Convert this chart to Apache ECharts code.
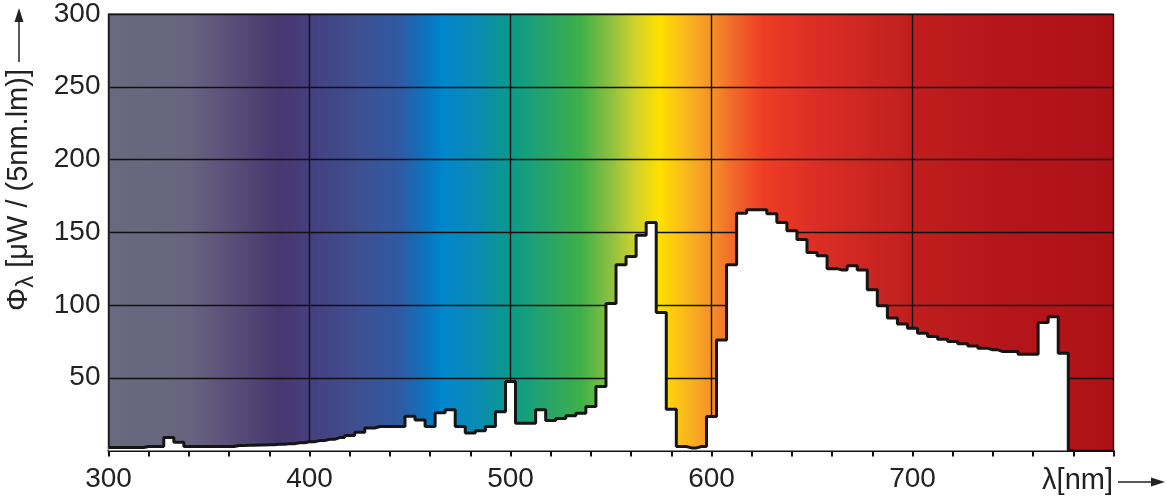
<!DOCTYPE html>
<html>
<head>
<meta charset="utf-8">
<script src="https://cdn.jsdelivr.net/npm/echarts@6/dist/echarts.min.js"></script>
<style>
	html, body { margin: 0; padding: 0; background: #ffffff; }
	#chart { width: 1167px; height: 500px; }
</style>
</head>
<body>
<div id="chart"></div>
<script>
// wavelength of each 5 nm band (nm)
var wavelengths = [300, 305, 310, 315, 320, 325, 330, 335, 340, 345,
	350, 355, 360, 365, 370, 375, 380, 385, 390, 395,
	400, 405, 410, 415, 420, 425, 430, 435, 440, 445,
	450, 455, 460, 465, 470, 475, 480, 485, 490, 495,
	500, 505, 510, 515, 520, 525, 530, 535, 540, 545,
	550, 555, 560, 565, 570, 575, 580, 585, 590, 595,
	600, 605, 610, 615, 620, 625, 630, 635, 640, 645,
	650, 655, 660, 665, 670, 675, 680, 685, 690, 695,
	700, 705, 710, 715, 720, 725, 730, 735, 740, 745,
	750, 755, 760, 765, 770, 775, 780];

// spectral flux per band, uW / (5nm.lm)
var flux = [2, 2, 2, 2, 2.7, 2.7, 8.9, 5.7, 2.7, 2.7,
	2.7, 2.7, 2.7, 3.4, 3.6, 3.8, 4, 4.3, 4.7, 5.3,
	6, 6.8, 7.7, 8.9, 10.3, 12.5, 15.5, 16.5, 16.5, 16.5,
	23.5, 21, 16.5, 26, 28, 16.5, 12, 13.5, 16.5, 26.7,
	47.4, 18.8, 18.8, 28, 20.6, 22, 23.8, 25.6, 30.2, 44,
	101, 127.6, 133.3, 148, 156.7, 94.8, 28.4, 2.7, 1.8, 2.7,
	23.3, 76, 127.6, 163, 165.4, 165.4, 162.7, 156.7, 151, 145,
	136, 133.8, 125, 124, 127, 124, 110.4, 99.4, 91, 87,
	84, 80.6, 78.3, 76.5, 74.9, 73.3, 71.9, 70.3, 69.2, 68,
	68, 66.2, 66.2, 88, 92, 66.9, 0];

// axis ticks
var xTicks = [300, 400, 500, 600, 700, 800];
var yTicks = [50, 100, 150, 200, 250, 300];

// background spectrum colours [nm, colour]
var spectrum = [
	[300, '#6a697e'], [340, '#686480'], [360, '#5a5079'], [385, '#47376f'],
	[400, '#463f7e'], [425, '#3e4f91'], [445, '#2f5aa2'], [458, '#0a74bd'],
	[466, '#0086cc'], [482, '#0a8ab6'], [500, '#0a9a8a'], [518, '#26a46a'],
	[535, '#3eb048'], [550, '#8ec040'], [562, '#cfd22c'], [574, '#ffe000'],
	[590, '#f8b020'], [600, '#f59028'], [612, '#f1652a'], [626, '#ee3c24'],
	[650, '#dc2f25'], [700, '#c01e1e'], [750, '#b4151a'], [800, '#ad1117']
];

var FONT = 'Liberation Sans';
var TEXT_COLOR = '#222222';

var seriesData = [];
for (var i = 0; i < wavelengths.length; i++) {
	seriesData.push([wavelengths[i], flux[i]]);
}

var gradStops = [];
for (var j = 0; j < spectrum.length; j++) {
	gradStops.push({ offset: (spectrum[j][0] - 300) / 500, color: spectrum[j][1] });
}

var myChart = echarts.init(document.getElementById('chart'));
myChart.setOption({
	animation: false,
	grid: {
		left: 108.5,
		right: 53.5,
		top: 14,
		bottom: 49.5,
		show: true,
		borderColor: '#222',
		borderWidth: 1,
		backgroundColor: new echarts.graphic.LinearGradient(0, 0, 1, 0, gradStops),
		containLabel: false,
		outerBoundsMode: 'none'
	},
	xAxis: {
		type: 'value',
		min: xTicks[0],
		max: xTicks[xTicks.length - 1],
		interval: 100,
		axisLine: { show: true, lineStyle: { color: '#111', width: 2 } },
		axisTick: { show: true, length: 6, lineStyle: { color: '#111', width: 2 } },
		minorTick: { show: true, splitNumber: 5, length: 6, lineStyle: { color: '#111', width: 2 } },
		splitLine: { show: true, lineStyle: { color: '#111', width: 1.4 } },
		axisLabel: {
			margin: 15,
			fontSize: 28,
			fontFamily: FONT,
			color: TEXT_COLOR,
			formatter: function (v) { return v === 800 ? '' : String(v); }
		}
	},
	yAxis: {
		type: 'value',
		min: 0,
		max: yTicks[yTicks.length - 1],
		interval: 50,
		axisLine: { show: true, lineStyle: { color: '#222', width: 1.5 } },
		axisTick: { show: false },
		splitLine: { show: true, lineStyle: { color: '#111', width: 1.4 } },
		axisLabel: {
			margin: 8,
			fontSize: 28,
			fontFamily: FONT,
			color: TEXT_COLOR,
			formatter: function (v) { return yTicks.indexOf(v) >= 0 ? String(v) : ''; }
		}
	},
	graphic: [
		{
			type: 'text',
			x: 19,
			y: 311,
			rotation: Math.PI / 2,
			style: {
				text: '{a|Φ}{s|λ}{a| [μW / (5nm.lm)]}',
				align: 'left',
				verticalAlign: 'middle',
				rich: {
					a: { fontSize: 29, fontFamily: FONT, fill: TEXT_COLOR, lineHeight: 38, verticalAlign: 'middle' },
					s: { fontSize: 24, fontFamily: FONT, fill: TEXT_COLOR, lineHeight: 24, verticalAlign: 'bottom' }
				}
			}
		},
		{ type: 'line', shape: { x1: 19, y1: 62, x2: 19, y2: 20 }, style: { stroke: TEXT_COLOR, lineWidth: 1.5 } },
		{ type: 'polygon', shape: { points: [[19, 8], [14.5, 22], [23.5, 22]] }, style: { fill: TEXT_COLOR } },
		{
			type: 'text',
			x: 1113,
			y: 481,
			style: { text: 'λ[nm]', align: 'right', verticalAlign: 'middle', fontSize: 29, fontFamily: FONT, fill: TEXT_COLOR }
		},
		{ type: 'line', shape: { x1: 1118, y1: 482, x2: 1152, y2: 482 }, style: { stroke: TEXT_COLOR, lineWidth: 1.5 } },
		{ type: 'polygon', shape: { points: [[1165, 482], [1151, 477.5], [1151, 486.5]] }, style: { fill: TEXT_COLOR } }
	],
	series: [{
		type: 'line',
		step: 'middle',
		symbol: 'none',
		data: seriesData,
		lineStyle: { color: '#151515', width: 3 },
		areaStyle: { color: '#ffffff', opacity: 1 },
		z: 3
	}]
});
</script>
</body>
</html>
